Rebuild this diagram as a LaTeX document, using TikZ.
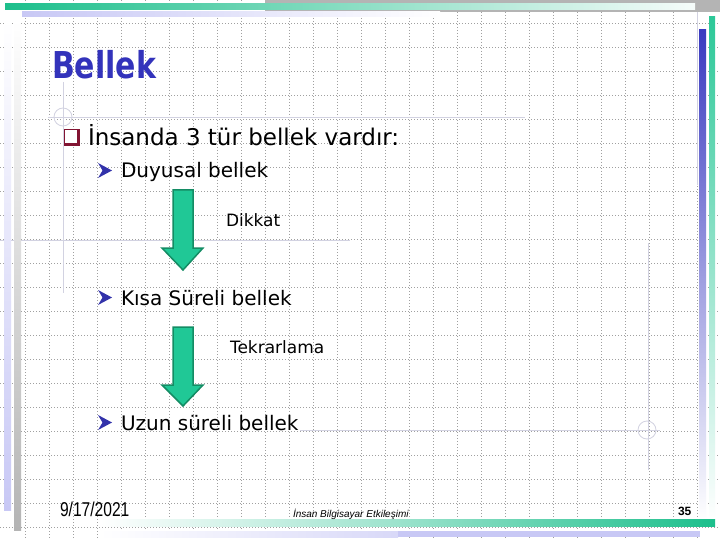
\documentclass[tikz,border=0pt]{standalone}
\usepackage{fontspec}
\setmainfont{DejaVu Sans}
\newfontfamily\footfont{Liberation Sans}
\definecolor{tealA}{RGB}{29,191,140}
\definecolor{lavA}{RGB}{200,200,245}
\definecolor{blueA}{RGB}{58,58,192}
\definecolor{tealB}{RGB}{44,200,152}
\definecolor{grayA}{RGB}{180,180,180}
\definecolor{gridc}{RGB}{160,160,160}
\definecolor{guide}{RGB}{210,210,225}
\definecolor{titleblue}{RGB}{51,51,187}
\definecolor{darkred}{RGB}{130,20,50}
\definecolor{bulletblue}{RGB}{50,50,170}
\definecolor{arrowfill}{RGB}{32,200,150}
\definecolor{arrowdraw}{RGB}{20,140,100}
\tikzset{
  gridline/.style={gridc, line width=0.6pt, dash pattern=on 1pt off 2pt},
  guideline/.style={guide, line width=0.8pt},
  txt/.style={anchor=base west, inner sep=0pt, outer sep=0pt},
  mainitem/.style={txt, font=\fontsize{23}{27}\selectfont},
  subitem/.style={txt, font=\fontsize{20}{24}\selectfont},
  labeltxt/.style={txt, font=\fontsize{17}{20}\selectfont},
  blockarrow/.style={fill=arrowfill, draw=arrowdraw, line width=1.5pt, line join=miter},
  subbullet/.style={fill=bulletblue, draw=none}
}
\begin{document}
\begin{tikzpicture}[x=1pt,y=-1pt]
\useasboundingbox (0,0) rectangle (720,540);
\fill[white] (0,0) rectangle (720,540);
% grid
\foreach \gx in {25,49,...,697} \draw[gridline] (\gx,0) -- (\gx,540);
\foreach \gy in {23.5,47.5,...,540} \draw[gridline] (0,\gy) -- (720,\gy);
% guide lines
\draw[guideline] (48,117) -- (525,117);
\draw[guideline] (63,82) -- (63,293);
\draw[guideline] (63,117) circle (9);
\draw[guideline] (0,240) -- (350,240);
\draw[guideline] (648,243) -- (648,470);
\draw[guideline] (300,430) -- (660,430);
\draw[guideline] (647,430) circle (9);
\draw[guideline] (697,12) -- (697,185);
% top bars
\fill[grayA] (265,0) rectangle (720,12);
\shade[left color=tealA, right color=white!96!tealA] (5,4) rectangle (695,10);
\shade[left color=lavA, right color=white] (22,12) rectangle (440,17);
% right bars
\shade[top color=blueA, bottom color=white] (699,30) rectangle (706,520);
\shade[top color=tealB, bottom color=white] (709,17) rectangle (715,520);
% left bars
\shade[top color=white, bottom color=lavA] (4,20) rectangle (11,510);
\shade[top color=white, bottom color=grayA] (14,20) rectangle (21,530);
% bottom bars
\shade[left color=white, right color=tealA!45] (100,519) rectangle (404,526);
\shade[left color=tealA!45, right color=tealA] (404,519) rectangle (715,526);
\shade[left color=white, right color=lavA!70] (100,531) rectangle (398,537);
\fill[lavA] (398,531) rectangle (700,537);
% title
\node[txt, font=\fontsize{37}{40}\selectfont\bfseries, text=titleblue, xscale=0.81] (title) at (52,79) {Bellek};
% main bullet
\fill[darkred] (64,129) rectangle (80,146);
\fill[white] (64,129) rectangle (77,143);
\draw[darkred, line width=0.8pt] (64,129) rectangle (77,143);
\node[mainitem] (main) at (88,146) {İnsanda 3 tür bellek vardır:};
% sub bullets
\fill[subbullet] (98,163) -- (112,170.5) -- (98,178) -- (102.5,170.5) -- cycle;
\node[subitem] (duy) at (121,178) {Duyusal bellek};
\fill[subbullet] (98,290) -- (112,297.5) -- (98,305) -- (102.5,297.5) -- cycle;
\node[subitem] (kisa) at (121,305) {Kısa Süreli bellek};
\fill[subbullet] (98,415) -- (112,422.5) -- (98,430) -- (102.5,422.5) -- cycle;
\node[subitem] (uzun) at (121,430) {Uzun süreli bellek};
% labels
\node[labeltxt] (dikkat) at (226,226) {Dikkat};
\node[labeltxt] (tekrar) at (230,353) {Tekrarlama};
% block arrows
\coordinate (a1top) at (183,190);
\coordinate (a1tip) at (183,270);
\draw[blockarrow] (173,190) -- (193,190) -- (193,248) -- (203,248) -- (a1tip) -- (162,248) -- (173,248) -- cycle;
\coordinate (a2top) at (183,327);
\coordinate (a2tip) at (183,406);
\draw[blockarrow] (173,327) -- (193,327) -- (193,385) -- (203,385) -- (a2tip) -- (162,385) -- (173,385) -- cycle;
% footer
\node[txt, font=\footfont\fontsize{20}{22}\selectfont, xscale=0.78] (date) at (60,516) {9/17/2021};
\node[txt, font=\footfont\fontsize{10}{12}\selectfont\itshape] (course) at (293,517) {İnsan Bilgisayar Etkileşimi};
\node[txt, font=\footfont\fontsize{12}{14}\selectfont\bfseries] (page) at (678,515) {35};
\end{tikzpicture}
\end{document}
